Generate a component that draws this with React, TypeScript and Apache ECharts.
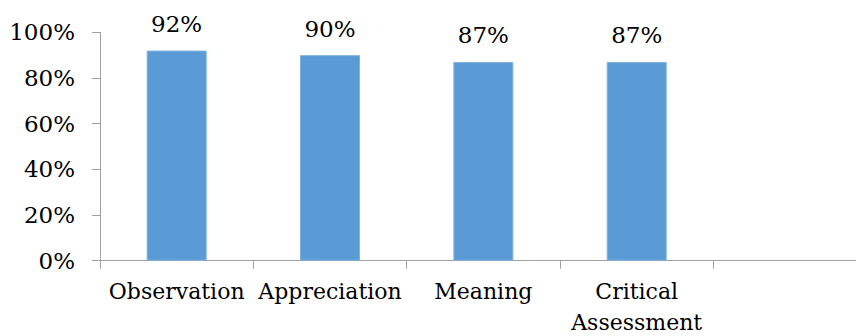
import React, { useEffect, useRef } from "react";
import * as echarts from "echarts";

const categories = ["Observation", "Appreciation", "Meaning", "Critical\nAssessment", ""];
const values = [92, 90, 87, 87, null];
const yTicks = { min: 0, max: 100, interval: 20 };

const FONT = "DejaVu Serif";

export default function App() {
  const ref = useRef<HTMLDivElement>(null);
  useEffect(() => {
    if (!ref.current) return;
    const chart = echarts.init(ref.current, undefined, { renderer: "svg" });
    chart.setOption({
      animation: false,
      grid: {
        left: 100,
        top: 32.3,
        width: 766.7,
        bottom: 75.3,
        containLabel: false,
        outerBoundsMode: "none",
      },
      xAxis: {
        type: "category",
        data: categories,
        axisLine: { lineStyle: { color: "#a0a0a0", width: 1 } },
        axisTick: { show: true, length: 8, alignWithLabel: false, lineStyle: { color: "#a0a0a0" } },
        axisLabel: {
          interval: 0,
          color: "#000",
          fontFamily: FONT,
          fontSize: 22,
          lineHeight: 31,
          margin: 15,
        },
      },
      yAxis: {
        type: "value",
        min: yTicks.min,
        max: yTicks.max,
        interval: yTicks.interval,
        splitLine: { show: false },
        axisLine: { show: true, lineStyle: { color: "#a0a0a0", width: 1 } },
        axisTick: { show: true, length: 8, lineStyle: { color: "#a0a0a0" } },
        axisLabel: {
          color: "#000",
          fontFamily: FONT,
          fontSize: 23,
          margin: 25,
          formatter: "{value}%",
        },
      },
      series: [
        {
          type: "bar",
          data: values,
          barWidth: 60,
          itemStyle: { color: "#5B9BD5", borderColor: "#7fb0de", borderWidth: 1 },
          label: {
            show: true,
            position: "top",
            distance: 15,
            color: "#000",
            fontFamily: FONT,
            fontSize: 23,
            formatter: "{c}%",
          },
        },
      ],
    });
    return () => chart.dispose();
  }, []);
  return <div ref={ref} style={{ width: 856, height: 336, position: "absolute", left: 0, top: 0 }} />;
}
